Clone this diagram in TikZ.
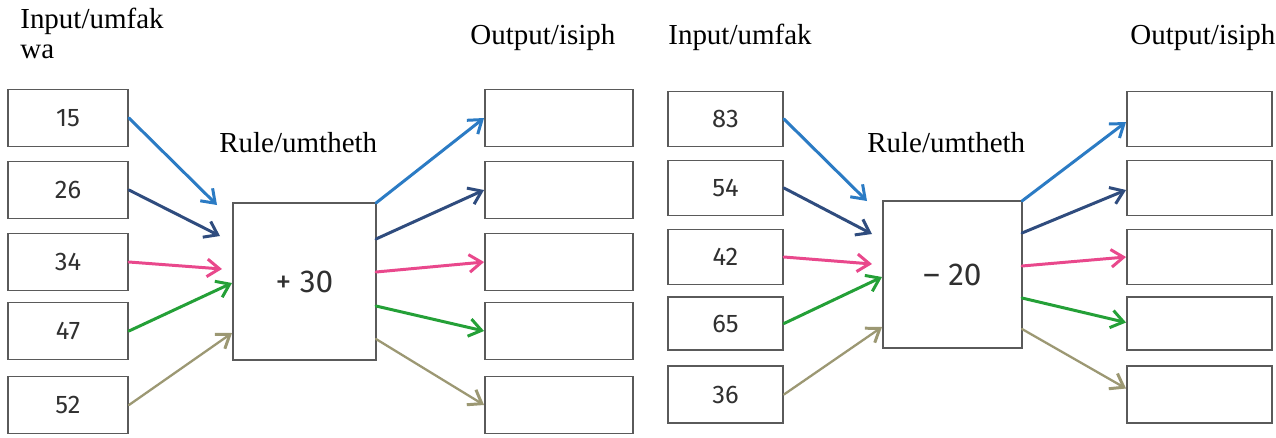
\documentclass[tikz,border=0pt]{standalone}
\usepackage{fontspec}
\setmainfont{Liberation Serif}
\newfontfamily\numfont[Ligatures=TeX]{Fira Sans}
\usetikzlibrary{arrows.meta}
\definecolor{cblue}{HTML}{2B7BC4}
\definecolor{cnavy}{HTML}{2F4C7E}
\definecolor{cpink}{HTML}{E9488C}
\definecolor{cgreen}{HTML}{24A037}
\definecolor{colive}{HTML}{9C9873}
\definecolor{boxgray}{HTML}{5A5A5A}
\definecolor{numgray}{HTML}{303030}
\tikzset{
  numbox/.style={draw=boxgray, line width=1.1pt, fill=white, inner sep=0pt, minimum width=#1*0.02cm},
  rowbox/.style={numbox=#1, minimum height=57*0.02cm, font=\numfont\fontsize{14.5}{16}\selectfont, text=numgray},
  rulebox/.style={draw=boxgray, line width=1.1pt, fill=white, inner sep=0pt, font=\numfont\fontsize{18}{20}\selectfont, text=numgray},
  title/.style={anchor=base west, inner sep=0pt, font=\fontsize{16.5}{20}\selectfont},
  conn/.style={line width=1.7pt, -{Straight Barb[length=7pt,width=10pt,line width=1.7pt]}, line cap=round}
}
\begin{document}
\begin{tikzpicture}[x=0.02cm, y=-0.02cm]
\useasboundingbox (0,0) rectangle (1276,437);
\fill[white] (0,0) rectangle (1276,437);

% ---------- left panel ----------
\node[title] (tinA) at (20,28) {Input/umfak};
\node[title] (tinA2) at (20,58) {wa};
\node[title] (toutA) at (470,44) {Output/isiph};
\node[title] (truleA) at (219,152) {Rule/umtheth};

\node[rowbox=120] (a1) at (68,118) {15};
\node[rowbox=120] (a2) at (68,190) {26};
\node[rowbox=120] (a3) at (68,262) {34};
\node[rowbox=120] (a4) at (68,331) {47};
\node[rowbox=120] (a5) at (68,405) {52};

\node[rowbox=148] (b1) at (559,118) {};
\node[rowbox=148] (b2) at (559,190) {};
\node[rowbox=148] (b3) at (559,262) {};
\node[rowbox=148] (b4) at (559,331) {};
\node[rowbox=148] (b5) at (559,405) {};

\node[rulebox, minimum width=143*0.02cm, minimum height=157*0.02cm] (ruleA) at (304.5,281.5) {+ 30};

\coordinate (ai1) at (217,205);
\coordinate (ai2) at (220,236);
\coordinate (ai3) at (222,269);
\coordinate (ai4) at (232,283);
\coordinate (ai5) at (232,333);
\coordinate (ao1) at (376,203);
\coordinate (ao2) at (376,239);
\coordinate (ao3) at (376,272);
\coordinate (ao4) at (376,306);
\coordinate (ao5) at (376,339);

\draw[conn, cblue] (a1.east) -- (ai1);
\draw[conn, cnavy] (a2.east) -- (ai2);
\draw[conn, cpink] (a3.east) -- (ai3);
\draw[conn, cgreen] (a4.east) -- (ai4);
\draw[conn, colive, line width=1.3pt] (a5.east) -- (ai5);
\draw[conn, cblue] (ao1) -- (b1.west);
\draw[conn, cnavy] (ao2) -- (b2.west);
\draw[conn, cpink] (ao3) -- (b3.west);
\draw[conn, cgreen] (ao4) -- (b4.west);
\draw[conn, colive, line width=1.3pt] (ao5) -- (b5.west);

% ---------- right panel ----------
\node[title] (tinB) at (668,44) {Input/umfak};
\node[title] (toutB) at (1130,44) {Output/isiph};
\node[title] (truleB) at (867,152) {Rule/umtheth};

\node[rowbox=115, minimum height=55*0.02cm] (c1) at (725.5,119) {83};
\node[rowbox=115, minimum height=55*0.02cm] (c2) at (725.5,188) {54};
\node[rowbox=115, minimum height=55*0.02cm] (c3) at (725.5,257) {42};
\node[rowbox=115, minimum height=53*0.02cm] (c4) at (725.5,323.5) {65};
\node[rowbox=115, minimum height=57*0.02cm] (c5) at (725.5,394.5) {36};

\node[rowbox=145, minimum height=55*0.02cm] (d1) at (1199.5,119) {};
\node[rowbox=145, minimum height=55*0.02cm] (d2) at (1199.5,188) {};
\node[rowbox=145, minimum height=55*0.02cm] (d3) at (1199.5,257) {};
\node[rowbox=145, minimum height=53*0.02cm] (d4) at (1199.5,323.5) {};
\node[rowbox=145, minimum height=57*0.02cm] (d5) at (1199.5,394.5) {};

\node[rulebox, minimum width=139*0.02cm, minimum height=147*0.02cm] (ruleB) at (952.5,274.5) {\textendash\ 20};

\coordinate (ci1) at (867,201);
\coordinate (ci2) at (872,234);
\coordinate (ci3) at (872,264);
\coordinate (ci4) at (882,277);
\coordinate (ci5) at (882,327);
\coordinate (co1) at (1022,201);
\coordinate (co2) at (1022,233);
\coordinate (co3) at (1022,266);
\coordinate (co4) at (1022,298);
\coordinate (co5) at (1022,329);

\draw[conn, cblue] (c1.east) -- (ci1);
\draw[conn, cnavy] (c2.east) -- (ci2);
\draw[conn, cpink] (c3.east) -- (ci3);
\draw[conn, cgreen] (c4.east) -- (ci4);
\draw[conn, colive, line width=1.3pt] (c5.east) -- (ci5);
\draw[conn, cblue] (co1) -- ([yshift=-3*0.02cm]d1.west);
\draw[conn, cnavy] (co2) -- ([yshift=-2*0.02cm]d2.west);
\draw[conn, cpink] (co3) -- (d3.west);
\draw[conn, cgreen] (co4) -- ([yshift=1*0.02cm]d4.west);
\draw[conn, colive, line width=1.3pt] (co5) -- ([yshift=6*0.02cm]d5.west);
\end{tikzpicture}
\end{document}
